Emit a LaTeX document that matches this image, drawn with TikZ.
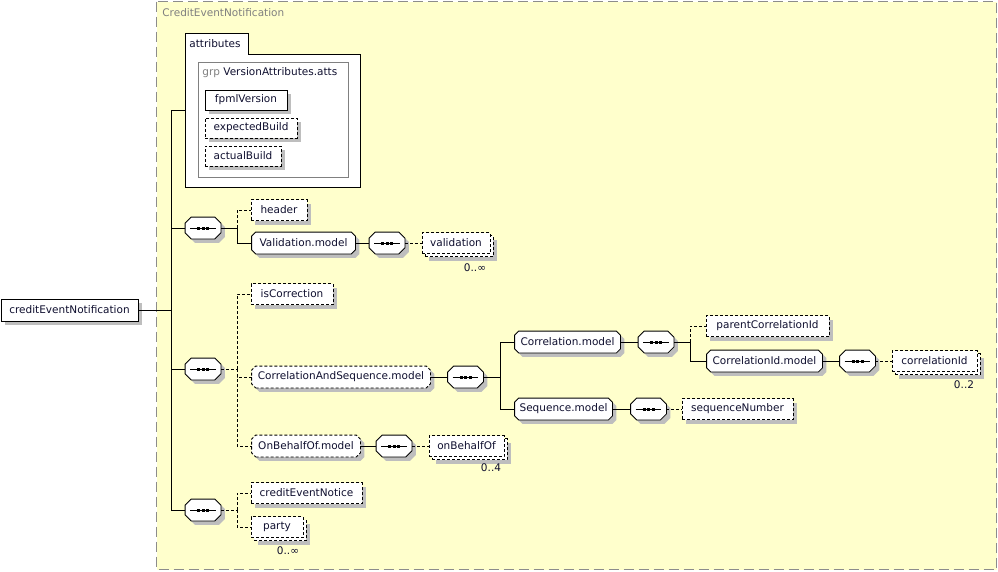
\documentclass[tikz,border=0pt]{standalone}
\usepackage{fontspec}
\setmainfont{DejaVu Sans}
\usetikzlibrary{shadows,calc}
\definecolor{bgyellow}{HTML}{FFFFCC}
\definecolor{framegray}{HTML}{8C8C8C}
\definecolor{shadowgray}{HTML}{BEBEBE}
\definecolor{txt}{HTML}{0F0F2F}
\definecolor{grpgray}{HTML}{808080}
\makeatletter
\pgfkeys{/pgf/octbox cut/.initial=4pt}
\pgfdeclareshape{octbox}{
  \inheritsavedanchors[from=rectangle]
  \inheritanchorborder[from=rectangle]
  \inheritanchor[from=rectangle]{center}
  \inheritanchor[from=rectangle]{mid}
  \inheritanchor[from=rectangle]{base}
  \inheritanchor[from=rectangle]{north}
  \inheritanchor[from=rectangle]{south}
  \inheritanchor[from=rectangle]{east}
  \inheritanchor[from=rectangle]{west}
  \inheritanchor[from=rectangle]{north east}
  \inheritanchor[from=rectangle]{north west}
  \inheritanchor[from=rectangle]{south east}
  \inheritanchor[from=rectangle]{south west}
  \savedmacro\octcut{\pgfmathsetlengthmacro\octcut{\pgfkeysvalueof{/pgf/octbox cut}}}
  \backgroundpath{
    \southwest \edef\oxa{\the\pgf@x}\edef\oya{\the\pgf@y}
    \northeast \edef\oxb{\the\pgf@x}\edef\oyb{\the\pgf@y}
    \pgfpathmoveto{\pgfpoint{\oxa+\octcut}{\oya}}
    \pgfpathlineto{\pgfpoint{\oxb-\octcut}{\oya}}
    \pgfpathlineto{\pgfpoint{\oxb}{\oya+\octcut}}
    \pgfpathlineto{\pgfpoint{\oxb}{\oyb-\octcut}}
    \pgfpathlineto{\pgfpoint{\oxb-\octcut}{\oyb}}
    \pgfpathlineto{\pgfpoint{\oxa+\octcut}{\oyb}}
    \pgfpathlineto{\pgfpoint{\oxa}{\oyb-\octcut}}
    \pgfpathlineto{\pgfpoint{\oxa}{\oya+\octcut}}
    \pgfpathclose
  }
}
\makeatother
\tikzset{
  base/.style={font=\fontsize{10.5}{12}\selectfont, text=txt, inner xsep=0pt, inner ysep=0pt, minimum height=21pt, line width=0.8pt},
  shd/.style={general shadow={fill=shadowgray, draw=none, shadow xshift=4pt, shadow yshift=-4pt}},
  multi/.style={general shadow={fill=shadowgray, draw=none, shadow xshift=7pt, shadow yshift=-7pt},
                general shadow={fill=white, draw=black, line width=0.8pt, dash pattern=on 3pt off 2pt, shadow xshift=3pt, shadow yshift=-3pt}},
  elem/.style={base, rectangle, draw=black, fill=white},
  opt/.style={dash pattern=on 3pt off 2pt},
  model/.style={base, octbox, /pgf/octbox cut=4pt, draw=black, fill=white},
  seq/.style={base, octbox, /pgf/octbox cut=6pt, draw=black, fill=white, shd,
    minimum width=35pt, minimum height=21pt,
    path picture={
      \draw[line width=0.8pt, solid] ([xshift=5pt]path picture bounding box.west) -- ([xshift=-5pt]path picture bounding box.east);
      \foreach \dx in {-4.5,0,4.5}
        \fill[black] ([shift={(\dx-1.5,-1.5)}]path picture bounding box.center) rectangle ([shift={(\dx+1.5,1.5)}]path picture bounding box.center);
    }},
  mult/.style={font=\fontsize{10.5}{12}\selectfont, text=txt, inner sep=0pt},
  optc/.style={dash pattern=on 3pt off 2pt},
}
\begin{document}
\begin{tikzpicture}[x=1pt, y=-1pt, line width=0.8pt]
\useasboundingbox (0,0) rectangle (998,571);
% outer container
\draw[framegray, dash pattern=on 10pt off 5pt, fill=bgyellow, line width=1pt] (156.5,1.5) rectangle (996.5,569.5);
\node[mult, text=grpgray, anchor=west] (title) at (162,13) {CreditEventNotification};
% attributes box
\draw[fill=white, line width=0.8pt] (185,187) -- (185,33) -- (248,33) -- (248,54) -- (360,54) -- (360,187) -- cycle;
\node[mult, anchor=west] (attrlbl) at (189,44) {attributes};
\draw[grpgray, line width=0.8pt] (198,62) rectangle (348,177);
\node[mult, anchor=west] (grplbl) at (202,73) {\textcolor{grpgray}{grp} VersionAttributes.atts};
\node[elem, shd, minimum width=82pt, minimum height=20pt] (fpml) at (246,100) {fpmlVersion};
\node[elem, opt, shd, minimum width=92pt, minimum height=20pt] (expb) at (251,128) {expectedBuild};
\node[elem, opt, shd, minimum width=76pt, minimum height=20pt] (actb) at (243,156) {actualBuild};
% root
\node[elem, shd, minimum width=137pt, minimum height=22pt] (cen) at (69.5,310) {creditEventNotification};
% sequence 1
\node[seq] (s1) at (203,228) {};
\node[elem, opt, shd, minimum width=56pt] (header) at (279,210) {header};
\node[model, shd, minimum width=103pt] (valm) at (303.5,243) {Validation.model};
\node[seq] (s4) at (387,243) {};
\node[elem, opt, multi, minimum width=68pt] (valid) at (456,243) {validation};
\node[mult] (m1) at (475,268) {0..∞};
% sequence 2
\node[seq] (s2) at (203,369) {};
\node[elem, opt, shd, minimum width=82pt] (iscor) at (292,294) {isCorrection};
\node[model, opt, shd, minimum width=178pt] (casm) at (341,377) {CorrelationAndSequence.model};
\node[seq] (s5) at (465.5,377) {};
\node[model, shd, minimum width=105pt] (corm) at (567.5,342) {Correlation.model};
\node[seq] (s6) at (656,342) {};
\node[elem, opt, shd, minimum width=123pt] (pcid) at (767.5,326) {parentCorrelationId};
\node[model, shd, minimum width=115pt] (cidm) at (764.5,361) {CorrelationId.model};
\node[seq] (s7) at (857.5,361) {};
\node[elem, opt, multi, minimum width=85pt] (cid) at (934.5,361) {correlationId};
\node[mult] (m2) at (964,385) {0..2};
\node[model, shd, minimum width=97pt] (seqm) at (563.5,409) {Sequence.model};
\node[seq] (s8) at (648.5,409) {};
\node[elem, opt, shd, minimum width=111pt] (seqn) at (737.5,409) {sequenceNumber};
\node[model, opt, shd, minimum width=108pt] (obom) at (306,446) {OnBehalfOf.model};
\node[seq] (s9) at (394,446) {};
\node[elem, opt, multi, minimum width=75pt] (obo) at (466.5,446) {onBehalfOf};
\node[mult] (m3) at (491,468) {0..4};
% sequence 3
\node[seq] (s3) at (203,510) {};
\node[elem, opt, shd, minimum width=111pt] (cen2) at (306.5,493) {creditEventNotice};
\node[elem, opt, multi, minimum width=52pt] (party) at (277,527) {party};
\node[mult] (m4) at (288,551) {0..∞};
% connectors
\coordinate (trTop) at (171,110);
\coordinate (trBot) at (171,510);
\coordinate (attrW) at (185,110);
\draw (trTop) -- (trBot);
\draw (trTop) -- (attrW);
\draw (cen.east) -- (cen.east -| trTop);
\draw (s1.west -| trTop) -- (s1.west);
\draw (s2.west -| trTop) -- (s2.west);
\draw (s3.west -| trTop) -- (s3.west);
\coordinate (j1) at (237,228);
\draw (s1.east) -- (j1);
\draw[optc] (j1) |- (header.west);
\draw (j1) |- (valm.west);
\draw (valm.east) -- (s4.west);
\draw[optc] (s4.east) -- (valid.west);
\coordinate (j2) at (237,369);
\draw[optc] (s2.east) -- (j2);
\draw[optc] (j2) |- (iscor.west);
\draw[optc] (j2) |- (casm.west);
\draw[optc] (j2) |- (obom.west);
\draw (casm.east) -- (s5.west);
\coordinate (j3) at (500,377);
\draw (s5.east) -- (j3);
\draw (j3) |- (corm.west);
\draw (j3) |- (seqm.west);
\draw (corm.east) -- (s6.west);
\coordinate (j4) at (690,342);
\draw (s6.east) -- (j4);
\draw[optc] (j4) |- (pcid.west);
\draw (j4) |- (cidm.west);
\draw (cidm.east) -- (s7.west);
\draw[optc] (s7.east) -- (cid.west);
\draw (seqm.east) -- (s8.west);
\draw[optc] (s8.east) -- (seqn.west);
\draw (obom.east) -- (s9.west);
\draw[optc] (s9.east) -- (obo.west);
\coordinate (j5) at (237,510);
\draw[optc] (s3.east) -- (j5);
\draw[optc] (j5) |- (cen2.west);
\draw[optc] (j5) |- (party.west);
\end{tikzpicture}
\end{document}
